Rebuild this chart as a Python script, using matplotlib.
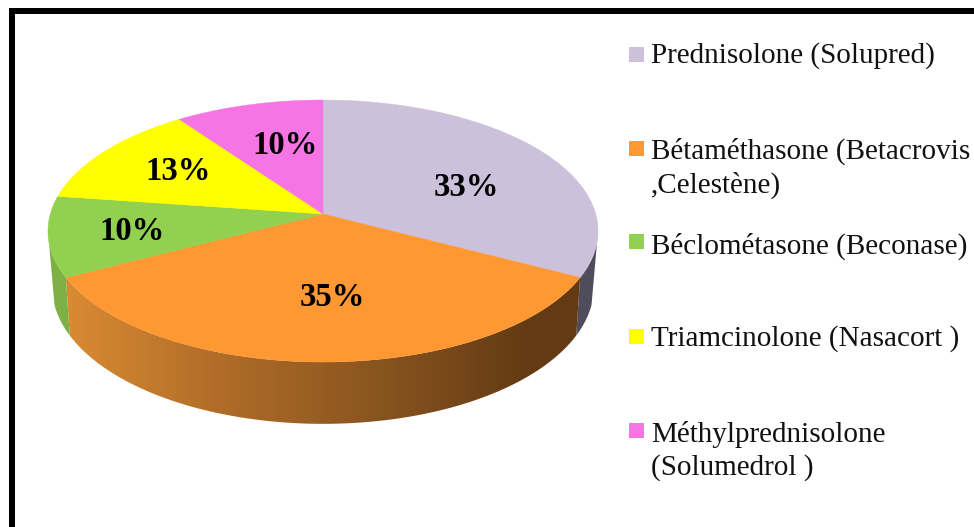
import matplotlib
matplotlib.use('Agg')
import matplotlib.pyplot as plt
from matplotlib.colors import LinearSegmentedColormap
from matplotlib.patches import Polygon, Rectangle
import numpy as np

values = [33, 35, 10, 13, 10]
value_labels = ['33%', '35%', '10%', '13%', '10%']
top_colors = ['#CCC1DA', '#FE9832', '#92D050', '#FFFF00', '#F674E4']
side_colors = ['#4F4D5C', None, '#7FB045', '#B5B500', '#A84F9C']
legend_labels = ['Prednisolone (Solupred)', 'Bétaméthasone (Betacrovis\n,Celestène)',
                 'Béclométasone (Beconase)', 'Triamcinolone (Nasacort )',
                 'Méthylprednisolone\n(Solumedrol )']

# pie geometry, in figure pixels
cx, cy = 323, 214
rx, ry = 272.7, 128.8
persp = 0.13
label_pos = [(466, 187), (332, 298), (132, 232), (178, 171), (285, 145)]
legend_box_y = [54, 148, 241, 336, 430]
legend_text_y = [56, 168, 246, 339, 451]


def project(angle, bottom=False):
    # angle in degrees, clockwise from the top of the pie
    t = np.radians(angle)
    u, v = np.sin(t), -np.cos(t)
    w = 1 - persp * v
    x, y = rx * u / w, ry * v / w
    if bottom:
        return cx + 0.985 * x, cy + 1.046 * y + 55
    return cx + x, cy + y


fig = plt.figure(figsize=(9.74, 5.27), dpi=100)
ax = fig.add_axes([0, 0, 1, 1])

edges = np.concatenate([[0], np.cumsum(values)]) / sum(values) * 360

# side walls, top rim runs to the ellipse extremes, bottom rim stops a bit earlier
orange_grad = LinearSegmentedColormap.from_list(
    'side', [(0, '#D98B33'), (0.3, '#B06C28'), (0.58, '#8C5720'), (0.9, '#633A13'), (1, '#633A13')])
for i in range(len(values)):
    a0, a1 = max(edges[i], 97.5), min(edges[i + 1], 262.5)
    if a1 <= a0:
        continue
    tx, ty = project(np.linspace(a0, a1, 120))
    bx, by = project(np.linspace(max(edges[i], 105), min(edges[i + 1], 255), 120), bottom=True)
    poly = np.column_stack([np.r_[tx, bx[::-1]], np.r_[ty, by[::-1]]])
    if side_colors[i] is None:
        patch = Polygon(poly, closed=True, facecolor='none', edgecolor='none')
        ax.add_patch(patch)
        img = ax.imshow(np.linspace(0, 1, 256)[None, :], cmap=orange_grad, aspect='auto',
                        extent=(poly[:, 0].min(), poly[:, 0].max(), poly[:, 1].max(), poly[:, 1].min()), zorder=1)
        img.set_clip_path(patch)
    else:
        ax.add_patch(Polygon(poly, closed=True, facecolor=side_colors[i], edgecolor='none', zorder=1))

# top face
for i in range(len(values)):
    arc = np.linspace(edges[i], edges[i + 1], 200)
    tx, ty = project(arc)
    ax.fill(np.r_[cx, tx], np.r_[cy, ty], color=top_colors[i], lw=0.3, zorder=2)

for (x, y), label in zip(label_pos, value_labels):
    ax.text(x, y, label, ha='center', va='center', fontsize=23.5, fontweight='bold',
            family='Liberation Serif', color='black', zorder=3)

for i, label in enumerate(legend_labels):
    ax.add_patch(Rectangle((629, legend_box_y[i] - 7.5), 15, 15, facecolor=top_colors[i], edgecolor='none'))
    ax.text(651, legend_text_y[i], label, ha='left', va='center', fontsize=21,
            family='Liberation Serif', color='#111111', linespacing=1.32)

# black frame, open on the right and at the bottom
ax.add_patch(Rectangle((9, 8), 6, 527, facecolor='black', edgecolor='none', zorder=4))
ax.add_patch(Rectangle((9, 8), 974, 6, facecolor='black', edgecolor='none', zorder=4))

ax.set_xlim(0, 974)
ax.set_ylim(527, 0)
ax.axis('off')

plt.savefig('out.png', dpi=100)
plt.close('all')
